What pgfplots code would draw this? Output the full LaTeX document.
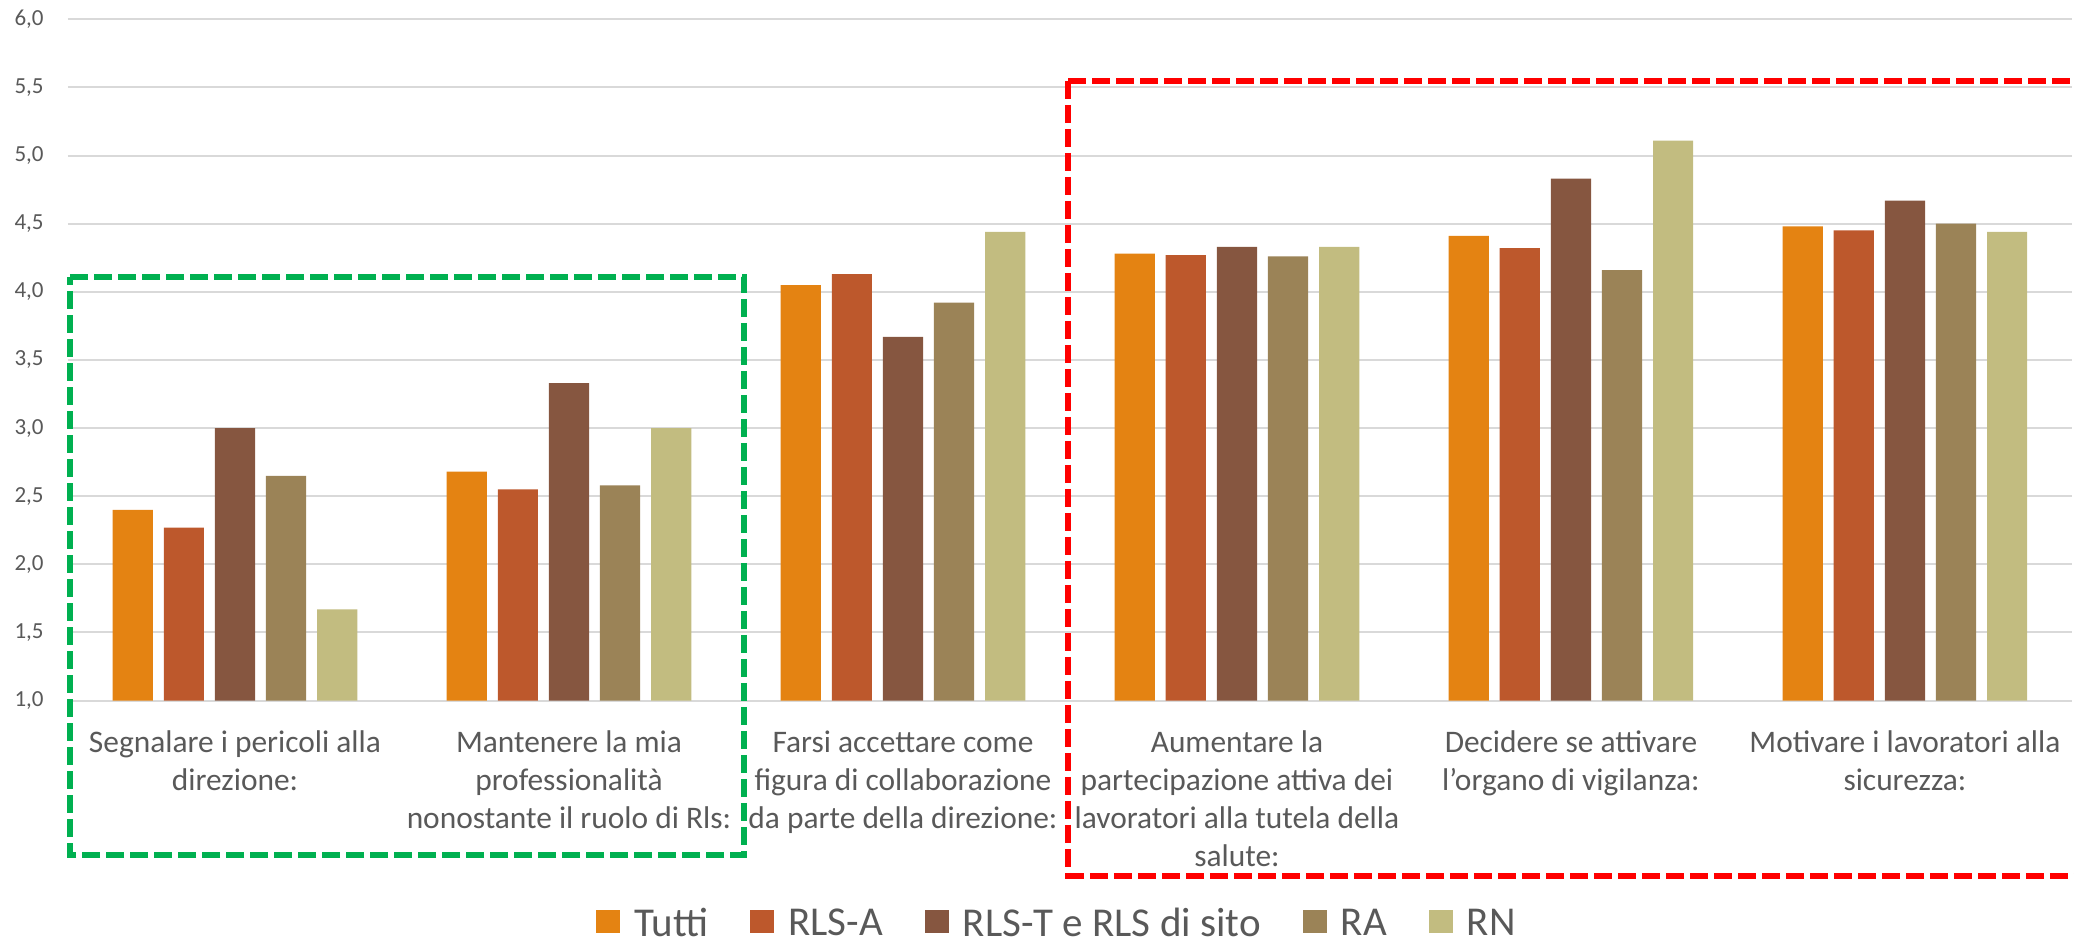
\documentclass[border=0pt]{standalone}
\usepackage{fontspec}
\setmainfont{Carlito}
\usepackage{pgfplots}
\pgfplotsset{compat=1.18}

\definecolor{cTutti}{HTML}{E48312}
\definecolor{cRLSA}{HTML}{BD582C}
\definecolor{cRLST}{HTML}{865640}
\definecolor{cRA}{HTML}{9B8357}
\definecolor{cRN}{HTML}{C2BC80}
\definecolor{txt}{HTML}{595959}
\definecolor{gridc}{HTML}{D9D9D9}
\definecolor{boxgreen}{HTML}{00B050}
\definecolor{boxred}{HTML}{FF0000}

% fixed first-line height so every category label starts at the same baseline
\newcommand\fl{\rule{0pt}{14pt}}

\begin{document}
\begin{tikzpicture}
\begin{axis}[
  scale only axis, width=1002pt, height=340.65pt,
  xmin=-0.5, xmax=5.5, ymin=1, ymax=6,
  enlargelimits=false,
  ybar, bar width=0.1204,
  xtick={0,1,2,3,4,5},
  ytick={1,1.5,2,2.5,3,3.5,4,4.5,5,5.5,6},
  xticklabels={
    {\fl Segnalare i pericoli alla\\direzione:},
    {\fl Mantenere la mia\\professionalità\\nonostante il ruolo di Rls:},
    {\fl Farsi accettare come\\figura di collaborazione\\da parte della direzione:},
    {\fl Aumentare la\\partecipazione attiva dei\\lavoratori alla tutela della\\salute:},
    {\fl Decidere se attivare\\l’organo di vigilanza:},
    {\fl Motivare i lavoratori alla\\sicurezza:}},
  axis line style={draw=none},
  major tick length=0pt,
  ymajorgrids, grid style={gridc, line width=1pt},
  yticklabel style={font=\fontsize{11.5}{13}\selectfont, text=txt,
    anchor=east, inner sep=0pt, xshift=-12pt},
  xticklabel style={font=\fontsize{15.7}{19}\selectfont, text=txt,
    align=center, anchor=north, inner sep=0pt, yshift=-11.7pt},
  /pgf/number format/fixed,
  /pgf/number format/fixed zerofill,
  /pgf/number format/precision=1,
  /pgf/number format/use comma,
  /pgf/number format/assume math mode=true,
  legend style={at={(0.494,-0.327)}, anchor=center, draw=none, fill=none,
    font=\fontsize{20.5}{24}\selectfont, text=txt,
    /tikz/every odd column/.append style={column sep=5pt},
    /tikz/every even column/.append style={column sep=19pt}},
  legend columns=-1,
  legend image code/.code={\fill[#1] (0pt,-5pt) rectangle (12pt,6.7pt);},
]
\addplot[fill=cTutti, draw=none, bar shift=-0.306]
  coordinates {(0,2.40) (1,2.68) (2,4.05) (3,4.28) (4,4.41) (5,4.48)};
\addplot[fill=cRLSA, draw=none, bar shift=-0.153]
  coordinates {(0,2.27) (1,2.55) (2,4.13) (3,4.27) (4,4.32) (5,4.45)};
\addplot[fill=cRLST, draw=none, bar shift=0]
  coordinates {(0,3.00) (1,3.33) (2,3.67) (3,4.33) (4,4.83) (5,4.67)};
\addplot[fill=cRA, draw=none, bar shift=0.153]
  coordinates {(0,2.65) (1,2.58) (2,3.92) (3,4.26) (4,4.16) (5,4.50)};
\addplot[fill=cRN, draw=none, bar shift=0.306]
  coordinates {(0,1.67) (1,3.00) (2,4.44) (3,4.33) (4,5.11) (5,4.44)};
\legend{Tutti, RLS-A, RLS-T e RLS di sito, RA, RN}
\end{axis}

% highlight frames around the two groups of items
\draw[boxgreen, line width=3pt, dash pattern=on 9pt off 3pt]
  (1pt,211.8pt) -- (338pt,211.8pt) -- (338pt,-77.2pt) -- (1pt,-77.2pt) -- cycle;
\draw[boxred, line width=3pt, dash pattern=on 9pt off 3pt]
  (500.2pt,309.8pt) -- (1012pt,309.8pt);
\draw[boxred, line width=3pt, dash pattern=on 9pt off 3pt]
  (500.2pt,309.8pt) -- (500.2pt,-87.5pt) -- (1012pt,-87.5pt);

\pgfresetboundingbox
\path[use as bounding box] (-34pt,-122.7pt) rectangle (1003pt,350.3pt);
\end{tikzpicture}
\end{document}
